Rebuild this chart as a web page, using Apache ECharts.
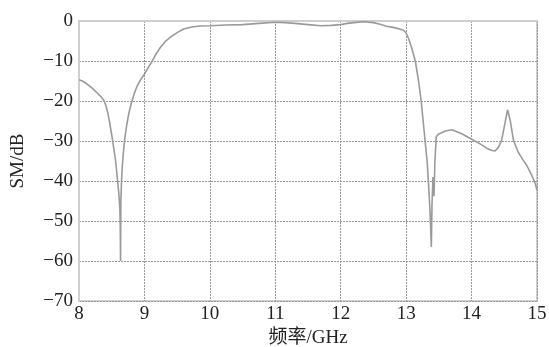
<!DOCTYPE html>
<html>
<head>
<meta charset="utf-8">
<script src="https://cdn.jsdelivr.net/npm/echarts@6/dist/echarts.min.js"></script>
<style>html,body{margin:0;padding:0;background:#fff}#c{width:549px;height:347px}</style>
</head>
<body>
<div id="c"></div>
<script>
var freq = [8.0, 8.05, 8.1, 8.15, 8.2, 8.24, 8.28, 8.31, 8.34, 8.37, 8.39, 8.41, 8.43, 8.45, 8.47, 8.49, 8.515, 8.54, 8.56, 8.575, 8.59, 8.605, 8.615, 8.625, 8.63, 8.635, 8.64, 8.65, 8.66, 8.67, 8.68, 8.695, 8.71, 8.73, 8.75, 8.77, 8.79, 8.81, 8.84, 8.87, 8.9, 8.93, 8.96, 9.0, 9.06, 9.12, 9.18, 9.24, 9.32, 9.4, 9.5, 9.6, 9.72, 9.85, 10.0, 10.25, 10.5, 10.75, 11.0, 11.15, 11.3, 11.5, 11.7, 11.85, 12.0, 12.1, 12.2, 12.35, 12.5, 12.6, 12.7, 12.8, 12.9, 12.96, 13.0, 13.04, 13.08, 13.14, 13.19, 13.23, 13.26, 13.29, 13.32, 13.34, 13.36, 13.375, 13.385, 13.395, 13.41, 13.425, 13.44, 13.46, 13.49, 13.52, 13.6, 13.7, 13.85, 14.03, 14.15, 14.23, 14.3, 14.36, 14.41, 14.46, 14.51, 14.55, 14.59, 14.64, 14.71, 14.78, 14.84, 14.89, 14.94, 14.98, 15.0];
var smdb = [-14.7, -15.0, -15.5, -16.1, -16.8, -17.4, -18.0, -18.5, -19.0, -19.6, -20.2, -21.1, -22.3, -23.8, -25.5, -27.5, -30.0, -32.8, -35.0, -37.5, -40.0, -42.5, -44.5, -47.0, -51.0, -60.0, -45.0, -40.0, -36.8, -34.5, -32.7, -30.0, -28.2, -26.0, -24.1, -22.5, -21.2, -20.0, -18.4, -17.0, -15.9, -15.0, -14.2, -13.3, -11.6, -10.0, -8.2, -6.7, -5.1, -4.0, -2.9, -2.0, -1.5, -1.25, -1.2, -1.0, -0.9, -0.6, -0.3, -0.4, -0.6, -0.9, -1.2, -1.1, -0.9, -0.6, -0.4, -0.2, -0.4, -0.8, -1.3, -1.6, -2.0, -2.3, -3.0, -4.5, -6.5, -10.0, -15.0, -20.0, -25.0, -30.0, -35.0, -40.0, -46.0, -52.0, -56.5, -46.0, -39.0, -43.8, -35.0, -29.0, -28.3, -28.0, -27.5, -27.2, -28.2, -29.8, -30.9, -31.8, -32.3, -32.5, -31.6, -29.8, -25.6, -22.2, -24.8, -29.8, -32.7, -34.6, -36.0, -37.6, -39.3, -41.0, -42.3];
var xTicks = [8, 9, 10, 11, 12, 13, 14, 15];
var yTicks = [-70, -60, -50, -40, -30, -20, -10, 0];

var pts = freq.map(function (f, i) { return [f, smdb[i]]; });
var font = '"Liberation Serif", "Times New Roman", serif';
var chart = echarts.init(document.getElementById('c'));
chart.setOption({
  animation: false,
  grid: { left: 79, right: 12, top: 21, bottom: 46, containLabel: false, outerBoundsMode: 'none',
    show: true, borderColor: '#cfcfcf', borderWidth: 2 },
  xAxis: {
    type: 'value', min: xTicks[0], max: xTicks[xTicks.length - 1], interval: 1,
    name: '频率/GHz', nameLocation: 'middle', nameGap: 25,
    nameTextStyle: { fontFamily: '"Liberation Serif", "Noto Sans CJK SC", serif', fontSize: 19, color: '#222' },
    axisLine: { show: true, lineStyle: { color: '#cfcfcf', width: 2 } },
    axisTick: { show: false },
    axisLabel: { fontFamily: font, fontSize: 19, color: '#222', margin: 4 },
    splitLine: { show: true, lineStyle: { type: [2, 1], color: '#999', width: 1 } }
  },
  yAxis: {
    type: 'value', min: yTicks[0], max: yTicks[yTicks.length - 1], interval: 10,
    name: 'SM/dB', nameLocation: 'middle', nameGap: 51, nameRotate: 90,
    nameTextStyle: { fontFamily: font, fontSize: 19, color: '#222' },
    axisLine: { show: true, lineStyle: { color: '#cfcfcf', width: 2 } },
    axisTick: { show: false },
    axisLabel: { fontFamily: font, fontSize: 19, color: '#222', margin: 6,
      formatter: function (v) { return String(v).replace('-', '\u2212'); } },
    splitLine: { show: true, lineStyle: { type: [2, 1], color: '#999', width: 1 } }
  },
  series: [{
    type: 'line', data: pts, showSymbol: false, smooth: false,
    lineStyle: { color: '#9a9a9a', width: 1.6 }
  }]
});
</script>
</body>
</html>
